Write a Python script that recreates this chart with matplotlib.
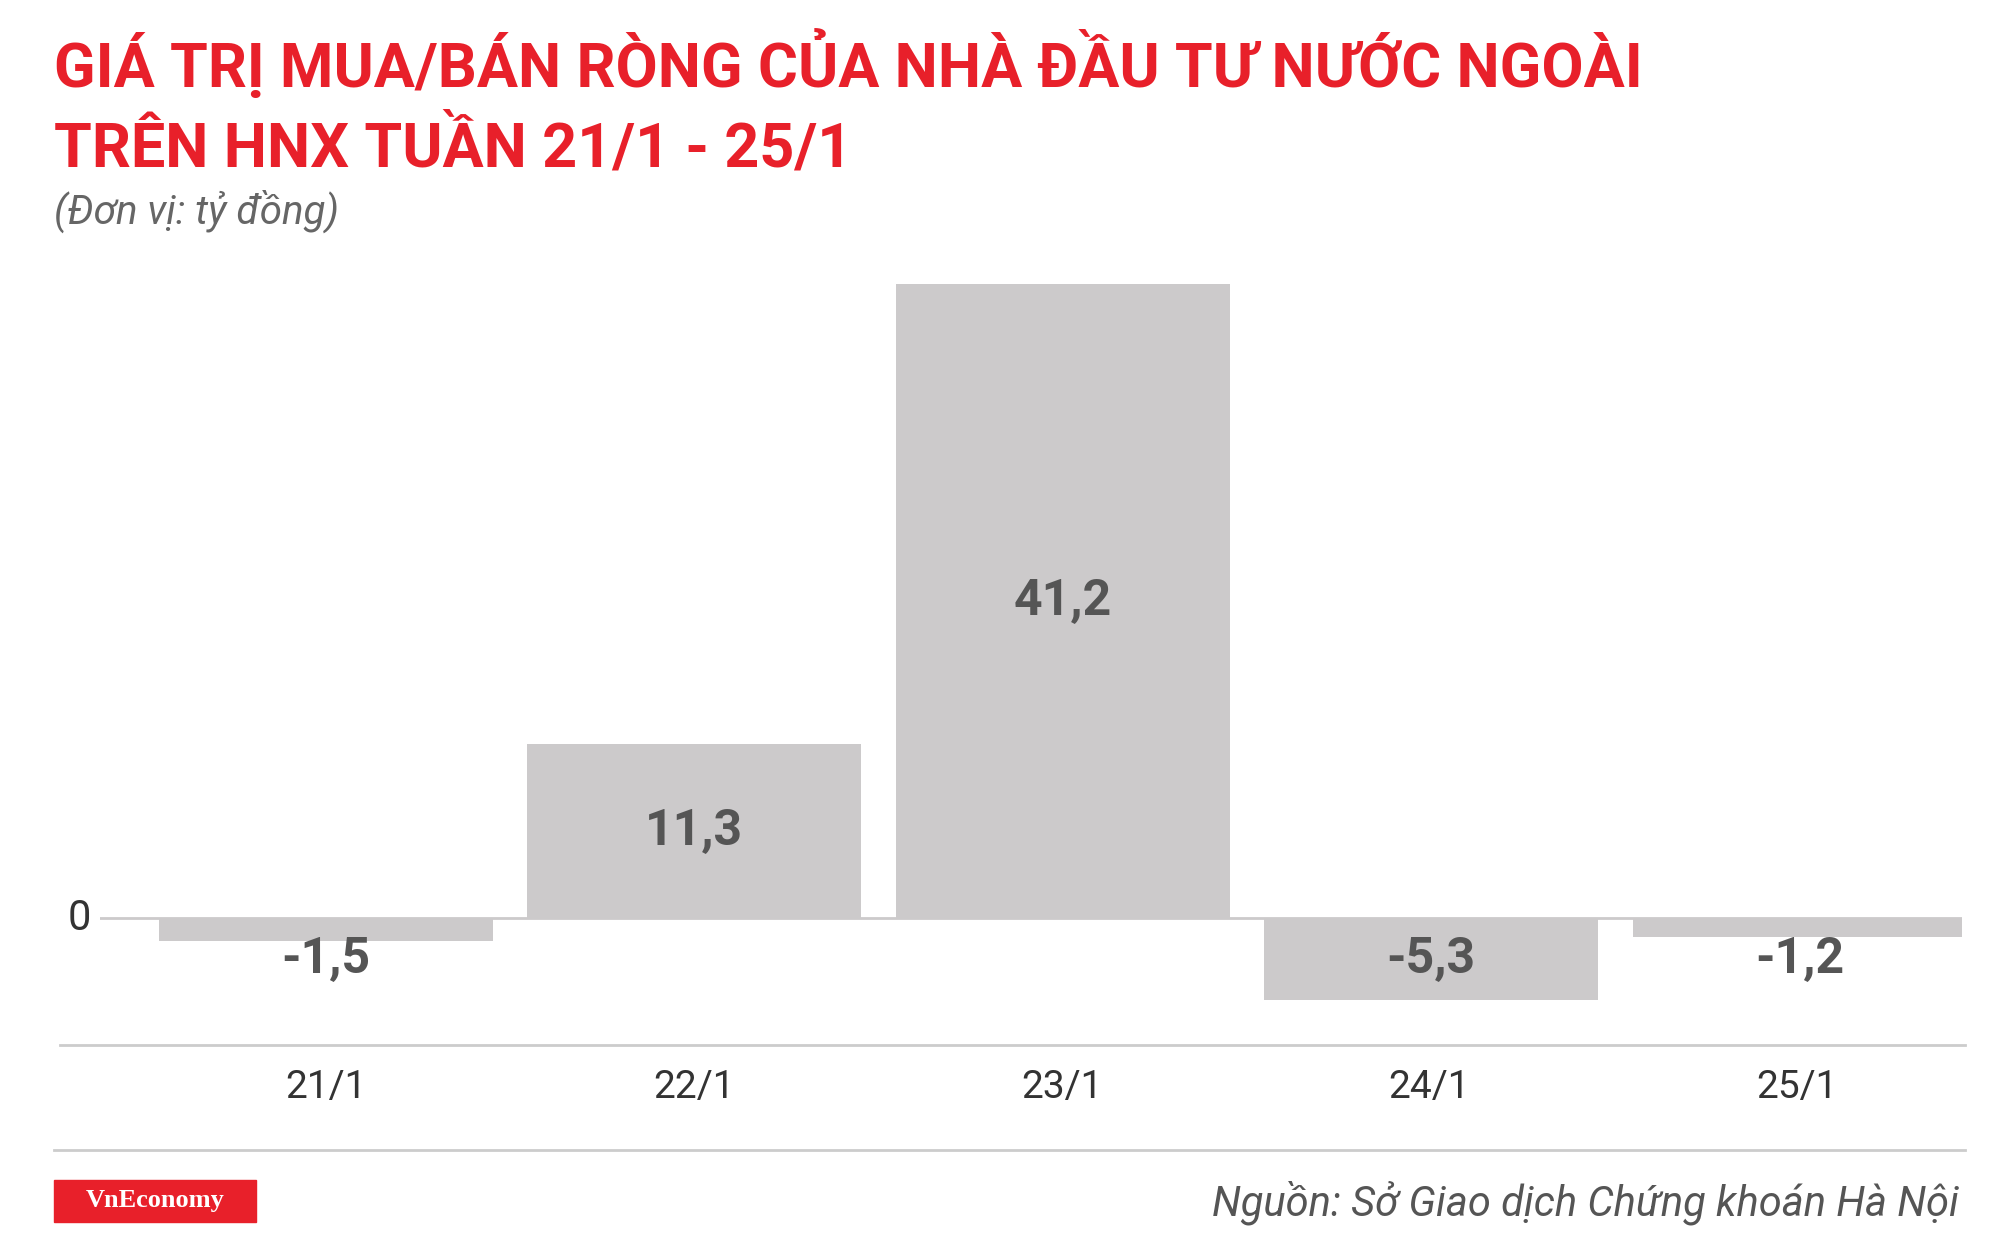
import matplotlib
matplotlib.use("Agg")
import matplotlib.pyplot as plt
from matplotlib.patches import Rectangle

categories = ["21/1", "22/1", "23/1", "24/1", "25/1"]
values = [-1.5, 11.3, 41.2, -5.3, -1.2]
labels = ["-1,5", "11,3", "41,2", "-5,3", "-1,2"]

plt.rcParams['font.family'] = ['Roboto', 'DejaVu Sans']
W, H = 1560, 963
fig = plt.figure(figsize=(20, 12.35), dpi=100)
fx = lambda x: x / W
fy = lambda y: 1 - y / H

ax = fig.add_axes([fx(78), fy(815), fx(1530) - fx(78), fy(200) - fy(815)])
ax.set_xlim(-0.613, 4.44)
ax.set_ylim(-8.25, 43)
xs = list(range(len(categories)))
ax.bar(xs, values, width=0.906, color="#cccacb", zorder=2)
ax.axhline(0, color="#cccacb", lw=2, zorder=1)
for x, v, l in zip(xs, values, labels):
    y = v / 2 if v > 0 else -2.7
    ax.text(x, y, l, ha="center", va="center", fontsize=36, fontweight="bold", color="#555555", zorder=3)
ax.axis("off")

fig.text(fx(62), fy(716), "0", ha="center", va="center", fontsize=30, color="#333333")
for x, c in zip(xs, categories):
    xf = fx(254 + 287 * x)
    fig.text(xf, fy(848), c, ha="center", va="center", fontsize=28, color="#333333")

fig.add_artist(plt.Line2D([fx(47), fx(1533)], [fy(815)] * 2, color="#cccccc", lw=2))
fig.add_artist(plt.Line2D([fx(42), fx(1533)], [fy(897)] * 2, color="#cccccc", lw=2))

red = "#e8202a"
fig.text(fx(42), fy(50), "GIÁ TRỊ MUA/BÁN RÒNG CỦA NHÀ ĐẦU TƯ NƯỚC NGOÀI", ha="left", va="center",
         fontsize=44, fontweight="bold", color=red)
fig.text(fx(42), fy(115), "TRÊN HNX TUẦN 21/1 - 25/1", ha="left", va="center",
         fontsize=44, fontweight="bold", color=red)
fig.text(fx(42), fy(165), "(Đơn vị: tỷ đồng)", ha="left", va="center",
         fontsize=29, style="italic", color="#666666")

fig.add_artist(Rectangle((fx(42), fy(953)), fx(200) - fx(42), fy(920) - fy(953), color=red, transform=fig.transFigure))
fig.text(fx(121), fy(936), "VnEconomy", ha="center", va="center", fontsize=19, fontweight="bold",
         color="white", family=["Liberation Serif", "DejaVu Serif"])
fig.text(fx(1528), fy(938), "Nguồn: Sở Giao dịch Chứng khoán Hà Nội", ha="right", va="center",
         fontsize=30, style="italic", color="#555555")

fig.savefig("out.png", dpi=100, facecolor="white")
